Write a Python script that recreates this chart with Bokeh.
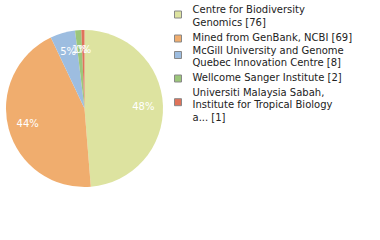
import numpy as np
from bokeh.plotting import figure
from bokeh.models import Range1d, ColumnDataSource
from bokeh.core.properties import value
from bokeh.embed import file_html
from bokeh.resources import INLINE

labels = ["Centre for Biodiversity\nGenomics [76]",
          "Mined from GenBank, NCBI [69]",
          "McGill University and Genome\nQuebec Innovation Centre [8]",
          "Wellcome Sanger Institute [2]",
          "Universiti Malaysia Sabah,\nInstitute for Tropical Biology\na... [1]"]
counts = [76, 69, 8, 2, 1]
colors = ["#dde3a0", "#f0ad6e", "#9dbde0", "#9cc67a", "#e0735a"]

W, H = 380, 240
p = figure(width=W, height=H, output_backend="svg", toolbar_location=None,
           x_range=Range1d(0, W), y_range=Range1d(0, H), min_border=0)
p.axis.visible = False
p.grid.visible = False
p.outline_line_color = None
p.background_fill_color = "white"

cx, cy, r = 84, H - 108, 78.5
vals = np.array(counts, dtype=float)
frac = vals / vals.sum()
cum = np.concatenate([[0], np.cumsum(frac)])
start = np.pi / 2 - cum[:-1] * 2 * np.pi
end = np.pi / 2 - cum[1:] * 2 * np.pi
src = ColumnDataSource(dict(start=start, end=end, color=colors))
p.wedge(x=cx, y=cy, radius=r, start_angle="start", end_angle="end",
        direction="clock", fill_color="color", line_color=None, source=src)

mid = (start + end) / 2
lr = r * 0.75
pct = [f"{int(np.floor(f * 100))}%" for f in frac]
p.text(x=cx + lr * np.cos(mid), y=cy + lr * np.sin(mid), text=pct,
       text_color="white", text_font=value("DejaVu Sans"), text_font_size="10px",
       text_align="center", text_baseline="middle")

# legend
sq_y = [14, 38, 54.5, 78, 101.7]
line_y = [[9.3, 21.7], [37.3], [50, 62.3], [77.3], [91.7, 104.3, 116.7]]
p.rect(x=[177.5] * 5, y=[H - v for v in sq_y], width=7, height=7,
       fill_color=colors, line_color="#888888", line_width=1)
tx, ty, tt = [], [], []
for lab, ys in zip(labels, line_y):
    for line, yy in zip(lab.split("\n"), ys):
        tx.append(192)
        ty.append(H - yy)
        tt.append(line)
p.text(x=tx, y=ty, text=tt, text_color="#222222", text_font=value("DejaVu Sans"),
       text_font_size="10px", text_align="left", text_baseline="middle")

open("out.html", "w").write(file_html(p, INLINE))
